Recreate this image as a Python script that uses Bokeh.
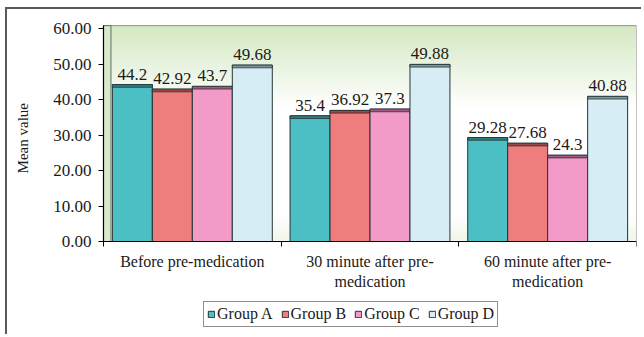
import numpy as np
from bokeh.plotting import figure
from bokeh.models import Range1d, FixedTicker, NumeralTickFormatter, Legend, LegendItem
from bokeh.core.properties import value
from bokeh.embed import file_html
from bokeh.resources import INLINE

# ---- data -------------------------------------------------------------
categories = ["Before pre-medication",
              "30 minute after pre-\nmedication",
              "60 minute after pre-\nmedication"]
groups = ["Group A", "Group B", "Group C", "Group D"]
group_a = [44.2, 35.4, 29.28]
group_b = [42.92, 36.92, 27.68]
group_c = [43.7, 37.3, 24.3]
group_d = [49.68, 49.88, 40.88]
y_ticks = [0, 10, 20, 30, 40, 50, 60]

series = [group_a, group_b, group_c, group_d]
fills = ["#4bbfc4", "#f07d7d", "#f29bc8", "#d6edf5"]
caps = ["#2f7f82", "#9c4848", "#a85a84", "#7d9aa3"]
FONT = "Liberation Serif"
TEXT = "#1a1a1a"

# The frame covers the whole canvas; the value axis, the category axis,
# the axis title and the legend are all placed inside it.
W, H = 636, 327
B_RIGHT = 7
AXIS_X = 96            # canvas x of the value axis
BASE_Y = 232           # canvas y of the zero line
PX_PER_Y = 3.55
Y_TOP = 60.8
frame_w = W - B_RIGHT
px_per_x = (frame_w - AXIS_X) / 3.0
X_LEFT = -AXIS_X / px_per_x
Y_BOT = -(H - BASE_Y) / PX_PER_Y
Y_MAX = Y_BOT + H / PX_PER_Y

p = figure(width=W, height=H,
           x_range=Range1d(X_LEFT, 3), y_range=Range1d(Y_BOT, Y_MAX),
           output_backend="svg", toolbar_location=None,
           min_border_left=0, min_border_right=B_RIGHT,
           min_border_top=0, min_border_bottom=0)
p.styles = {"margin-left": "5px", "margin-top": "7px",
            "border-left": "2px solid #5a5a5a", "border-top": "2px solid #5a5a5a"}

p.background_fill_color = "white"
p.border_fill_color = "white"
p.outline_line_color = None
p.grid.visible = False

# back wall: pale green fading to white
n = 200
t = np.linspace(0, 1, n)
top_g = np.array([212, 233, 194])
bot_g = np.array([232, 242, 222])
cols = np.ones((n, 3)) * 255
w_top = np.clip((t - 0.62) / 0.38, 0, 1)[:, None]
w_bot = np.clip((0.12 - t) / 0.12, 0, 1)[:, None] * 0.6
cols = cols * (1 - w_top) + top_g * w_top
cols = cols * (1 - w_bot) + bot_g * w_bot
img = np.zeros((n, 2), dtype=np.uint32)
view = img.view(dtype=np.uint8).reshape((n, 2, 4))
for j in range(2):
    view[:, j, 0] = cols[:, 0]
    view[:, j, 1] = cols[:, 1]
    view[:, j, 2] = cols[:, 2]
    view[:, j, 3] = 255
p.image_rgba(image=[img], x=0, y=0, dw=3, dh=Y_TOP, level="image")
p.quad(left=[0], right=[3], bottom=[0], top=[Y_TOP],
       fill_color=None, line_color="#8c8c8c", line_width=1)

# side wall strip
p.quad(left=[0], right=[0.042], bottom=[0], top=[Y_TOP],
       fill_color="#d9eacb", line_color="#5f6f5f", line_width=1)

# ---- bars ---------------------------------------------------------------
BAR_W = 0.225
renderers = []
for k, vals in enumerate(series):
    xs = [i + 0.05 + BAR_W / 2 + k * BAR_W for i in range(len(categories))]
    r = p.vbar(x=xs, top=vals, bottom=0, width=BAR_W,
               fill_color=fills[k], line_color="#263333", line_width=1)
    p.vbar(x=xs, top=vals, bottom=[v - 0.75 for v in vals], width=BAR_W,
           fill_color=caps[k], line_color="#263333", line_width=0.8)
    p.text(x=xs, y=vals, text=[f"{v:g}" for v in vals],
           text_align="center", text_baseline="bottom", y_offset=-5,
           text_font=value(FONT), text_font_size="17px", text_color=TEXT)
    renderers.append(r)

# ---- axes ---------------------------------------------------------------
ya = p.yaxis[0]
ya.fixed_location = 0
ya.ticker = FixedTicker(ticks=y_ticks)
ya.bounds = (0, Y_TOP)
ya.formatter = NumeralTickFormatter(format="0.00")
ya.axis_line_color = "black"
ya.axis_line_width = 1.2
ya.major_tick_out = 5
ya.major_tick_in = 0
ya.minor_tick_line_color = None
ya.major_tick_line_color = "black"
ya.major_label_text_font = FONT
ya.major_label_text_font_size = "17px"
ya.major_label_text_color = TEXT
ya.major_label_standoff = 7

# value-axis title, centred on the 0-60 span
title_x = (22 - 7 - AXIS_X) / px_per_x
p.text(x=[title_x], y=[Y_TOP / 2 - 1.3], text=["Mean value"], angle=np.pi / 2,
       text_align="center", text_baseline="middle",
       text_font=value(FONT), text_font_size="15px", text_color=TEXT)

xa = p.xaxis[0]
xa.fixed_location = 0
xa.bounds = (0, 3)
xa.ticker = FixedTicker(ticks=[0.5, 1.5, 2.5], minor_ticks=[0, 1, 2, 3])
xa.major_label_overrides = {0.5: categories[0], 1.5: categories[1], 2.5: categories[2]}
xa.axis_line_color = "black"
xa.axis_line_width = 1.2
xa.major_tick_out = 0
xa.major_tick_in = 0
xa.minor_tick_out = 5
xa.minor_tick_in = 0
xa.minor_tick_line_color = "black"
xa.major_label_text_font = FONT
xa.major_label_text_font_size = "16px"
xa.major_label_text_color = TEXT
xa.major_label_standoff = 6

# ---- legend -------------------------------------------------------------
legend = Legend(items=[LegendItem(label=g, renderers=[r]) for g, r in zip(groups, renderers)],
                orientation="horizontal", location=(196, 9))
legend.border_line_color = "#222222"
legend.border_line_width = 1
legend.background_fill_color = "white"
legend.background_fill_alpha = 1
legend.padding = 3
legend.margin = 0
legend.spacing = 8
legend.glyph_width = 8
legend.glyph_height = 8
legend.label_height = 18
legend.label_standoff = 2
legend.label_text_font = FONT
legend.label_text_font_size = "16px"
legend.label_text_color = TEXT
p.add_layout(legend)

open("out.html", "w").write(file_html(p, INLINE))
